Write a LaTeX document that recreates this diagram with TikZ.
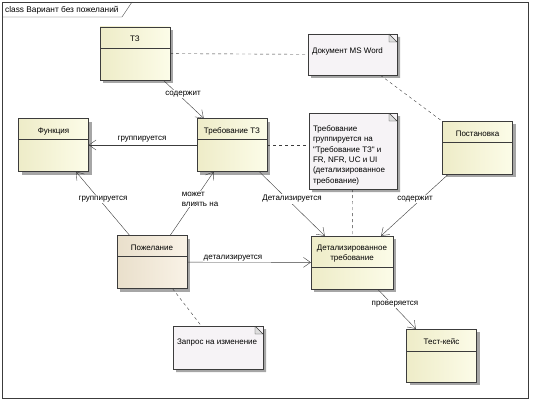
\documentclass[tikz,border=0pt]{standalone}
\usepackage{fontspec}
\newfontfamily\umlfont{Liberation Sans}
\usetikzlibrary{arrows.meta,shadows,shapes.misc}
\definecolor{clsleft}{RGB}{238,236,200}
\definecolor{clsright}{RGB}{252,252,232}
\definecolor{wishleft}{RGB}{233,223,203}
\definecolor{wishright}{RGB}{249,242,230}
\definecolor{notefill}{RGB}{246,243,246}
\definecolor{foldfill}{RGB}{222,222,222}
\definecolor{umlline}{RGB}{60,60,60}

\begin{document}
\begin{tikzpicture}[x=1pt,y=-1pt,
	font=\umlfont\fontsize{8}{10}\selectfont,
	cls/.style={rectangle,draw=umlline,left color=clsleft,right color=clsright,
		minimum width=70pt,minimum height=53pt,inner sep=0pt,
		text height=15pt,text depth=38pt,align=center,
		drop shadow={shadow xshift=3pt,shadow yshift=-3pt,fill=black!35,opacity=1},
		path picture={\draw[umlline] ([yshift=-#1]path picture bounding box.north west) -- ([yshift=-#1]path picture bounding box.north east);}},
	cls/.default=21pt,
	wish/.style={cls,left color=wishleft,right color=wishright},
	note/.style={chamfered rectangle,chamfered rectangle corners=north east,
		chamfered rectangle xsep=8pt,chamfered rectangle ysep=8pt,
		draw=umlline,fill=notefill,inner sep=0pt,
		drop shadow={shadow xshift=3pt,shadow yshift=-3pt,fill=black!35,opacity=1},
		path picture={\filldraw[draw=umlline,fill=foldfill] ([xshift=-8pt]path picture bounding box.north east) -- ([xshift=-8pt,yshift=-8pt]path picture bounding box.north east) -- ([yshift=-8pt]path picture bounding box.north east) -- cycle;}},
	notetext/.style={inner sep=0pt,align=left},
	assoc/.style={draw=umlline,-{Straight Barb[length=7pt,width=10pt]}},
	dep/.style={draw=umlline,dash pattern=on 3pt off 3pt},
	lbl/.style={fill=white,inner sep=1pt}]
	\useasboundingbox (0,0) rectangle (533,404);
	% frame
	\draw[umlline] (2,2) rectangle (528,398);
	\draw[umlline] (2,17) -- (122,17) -- (132,2);
	\node[anchor=west,inner sep=0pt,font=\umlfont\fontsize{8.3}{10}\selectfont] (title) at (5,10) {class Вариант без пожеланий};
	% classes
	\node[cls] (TZ) at (135,53.5) {ТЗ};
	\node[cls] (Fn) at (53.5,145) {Функция};
	\node[cls] (TR) at (232,145) {Требование ТЗ};
	\node[cls] (Post) at (477.5,147.5) {Постановка};
	\node[wish] (Wish) at (152,262) {Пожелание};
	\node[cls=31pt,minimum width=82pt,text height=24pt,text depth=29pt] (Det) at (352,262.5) {Детализированное\\требование};
	\node[cls=22pt] (Test) at (441.5,355.5) {Тест-кейс};
	% notes
	\node[note,minimum width=89pt,minimum height=41pt] (Doc) at (352.5,54.5) {};
	\node[notetext,anchor=west] (DocText) at ([xshift=4pt,yshift=3pt]Doc.west) {Документ MS Word};
	\node[note,minimum width=88pt,minimum height=76pt] (NoteTR) at (353,151) {};
	\node[notetext,anchor=north west,font=\umlfont\fontsize{8}{10.4}\selectfont] (NoteTRText) at ([xshift=4pt,yshift=-12.5pt]NoteTR.north west) {Требование\\группируется на\\"Требование ТЗ" и\\FR, NFR, UC и UI\\(детализированное\\требование)};
	\node[note,minimum width=90pt,minimum height=43pt] (Req) at (218,347.5) {};
	\node[notetext,anchor=west] (ReqText) at ([xshift=4pt,yshift=4.5pt]Req.west) {Запрос на изменение};
	% associations
	\draw[assoc] (TZ) -- (TR);
	\draw[assoc] (TR) -- (Fn);
	\draw[assoc] (Wish) -- (Fn);
	\draw[assoc] (Wish) -- (TR);
	\draw[assoc] (TR) -- (Det);
	\draw[assoc] (Post) -- (Det);
	\draw[assoc] (Wish) -- (Det);
	\draw[assoc] (Det) -- (Test);
	% note links
	\draw[dep] (TZ) -- (Doc);
	\draw[dep] (TR) -- (TR -| NoteTR.west);
	\draw[dep] (Doc) -- (Post);
	\draw[dep] (NoteTR) -- (Det);
	\draw[dep] (Wish) -- (Req);
	% labels
	\node[lbl] (lContains) at (183,94) {содержит};
	\node[lbl] (lGroup) at (142,139) {группируется};
	\node[lbl] (lGroupWish) at (103,199) {группируется};
	\node[lbl,align=left] (lMay) at (200,199) {может\\влиять на};
	\node[lbl] (lDetail) at (292,199) {Детализируется};
	\node[lbl] (lContainsPost) at (415,199) {содержит};
	\node[lbl] (lDetailWish) at (233,258) {детализируется};
	\node[lbl] (lCheck) at (395,304) {проверяется};
\end{tikzpicture}
\end{document}
